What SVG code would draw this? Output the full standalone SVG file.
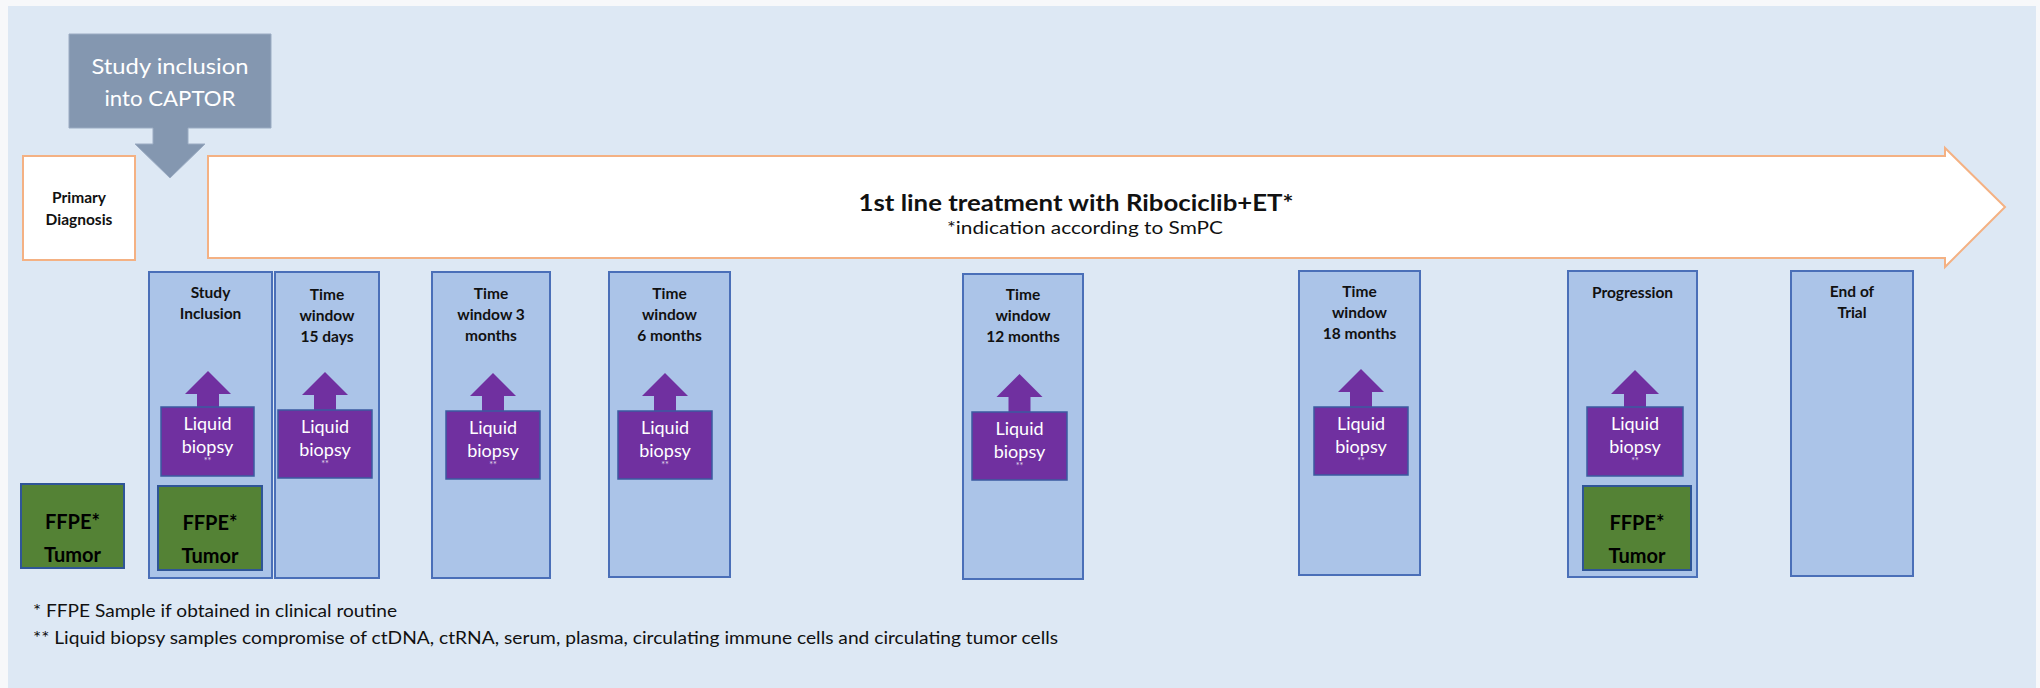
<svg xmlns="http://www.w3.org/2000/svg" width="2040" height="688" viewBox="0 0 2040 688">
<defs>
<style>
.col{fill:#abc4e8;stroke:#4a6fb8;stroke-width:2}
.lb{fill:#7030a0;stroke:#3b5aa0;stroke-width:1.5}
.la{fill:#7030a0}
.ffpe{fill:#548235;stroke:#2f5597;stroke-width:2}
.ct{font-family:Lato,"Open Sans",sans-serif;font-weight:bold;font-size:15.5px;fill:#111;text-anchor:middle}
.lt{font-family:Lato,"Open Sans",sans-serif;font-size:18px;fill:#fff;text-anchor:middle}
.st{font-family:Lato,"Open Sans",sans-serif;font-size:9px;fill:#fff;text-anchor:middle;opacity:0.8}
.ft{font-family:Lato,"Open Sans",sans-serif;font-weight:bold;font-size:20px;fill:#000;text-anchor:middle}
.fn{font-family:Lato,"Open Sans",sans-serif;font-size:16.5px;fill:#111}
</style>
</defs>
<rect x="0" y="0" width="2040" height="688" fill="#f7f8fa"/>
<rect id="panel" x="8" y="6" width="2028" height="682" fill="#dde8f4"/>

<g id="connectors">
<path id="treatment-arrow" d="M208,156 L1945,156 L1945,148 L2005,207 L1945,267 L1945,258 L208,258 Z" fill="#ffffff" stroke="#f4b183" stroke-width="2"/>
</g>

<g id="study-inclusion-callout">
<path d="M69,34 H271 V128 H188 V144 H205 L170,178 L135,144 H153 V128 H69 Z" fill="#8497b0" stroke="#9aabc2" stroke-width="1"/>
<text x="170" y="74" font-family="Lato,'Open Sans',sans-serif" font-size="22" fill="#fff" text-anchor="middle" textLength="157" lengthAdjust="spacingAndGlyphs">Study inclusion</text>
<text x="170" y="106" font-family="Lato,'Open Sans',sans-serif" font-size="22" fill="#fff" text-anchor="middle" textLength="131" lengthAdjust="spacingAndGlyphs">into CAPTOR</text>
</g>

<g id="treatment-label">
<text x="1076" y="211" font-family="Lato,'Open Sans',sans-serif" font-weight="bold" font-size="23" fill="#111" text-anchor="middle" textLength="435" lengthAdjust="spacingAndGlyphs">1st line treatment with Ribociclib+ET*</text>
<text x="1085" y="234" font-family="Lato,'Open Sans',sans-serif" font-size="18" fill="#111" text-anchor="middle" textLength="276" lengthAdjust="spacingAndGlyphs">*indication according to SmPC</text>
</g>

<g id="primary-diagnosis">
<rect x="23" y="156" width="112" height="104" fill="#ffffff" stroke="#f4b183" stroke-width="2"/>
<text class="ct" x="79" y="203">Primary</text>
<text class="ct" x="79" y="225">Diagnosis</text>
</g>

<g id="ffpe-primary">
<rect class="ffpe" x="21" y="484" width="103" height="84"/>
<text class="ft" x="72.5" y="529">FFPE*</text>
<text class="ft" x="72.5" y="562">Tumor</text>
</g>

<g id="col-study-inclusion">
<rect class="col" x="149" y="272" width="123" height="306"/>
<text class="ct" x="210.5" y="298">Study</text>
<text class="ct" x="210.5" y="319">Inclusion</text>
<path class="la" d="M197,407 V394 H185 L208,371 L231,394 H219 V407 Z"/>
<rect class="lb" x="161" y="407" width="93" height="69"/>
<text class="lt" x="207.5" y="430">Liquid</text>
<text class="lt" x="207.5" y="453">biopsy</text>
<text class="st" x="207.5" y="464">**</text>
<rect class="ffpe" x="158" y="486" width="104" height="84"/>
<text class="ft" x="210" y="530">FFPE*</text>
<text class="ft" x="210" y="563">Tumor</text>
</g>

<g id="col-15-days">
<rect class="col" x="275" y="272" width="104" height="306"/>
<text class="ct" x="327" y="300">Time</text>
<text class="ct" x="327" y="321">window</text>
<text class="ct" x="327" y="342">15 days</text>
<path class="la" d="M314,410 V395 H302 L325,372 L348,395 H336 V410 Z"/>
<rect class="lb" x="278" y="410" width="94" height="68"/>
<text class="lt" x="325" y="433">Liquid</text>
<text class="lt" x="325" y="456">biopsy</text>
<text class="st" x="325" y="467">**</text>
</g>

<g id="col-3-months">
<rect class="col" x="432" y="272" width="118" height="306"/>
<text class="ct" x="491" y="299">Time</text>
<text class="ct" x="491" y="320">window 3</text>
<text class="ct" x="491" y="341">months</text>
<path class="la" d="M482,411 V396 H470 L493,373 L516,396 H504 V411 Z"/>
<rect class="lb" x="446" y="411" width="94" height="68"/>
<text class="lt" x="493" y="434">Liquid</text>
<text class="lt" x="493" y="457">biopsy</text>
<text class="st" x="493" y="468">**</text>
</g>

<g id="col-6-months">
<rect class="col" x="609" y="272" width="121" height="305"/>
<text class="ct" x="669.5" y="299">Time</text>
<text class="ct" x="669.5" y="320">window</text>
<text class="ct" x="669.5" y="341">6 months</text>
<path class="la" d="M654,411 V396 H642 L665,373 L688,396 H676 V411 Z"/>
<rect class="lb" x="618" y="411" width="94" height="68"/>
<text class="lt" x="665" y="434">Liquid</text>
<text class="lt" x="665" y="457">biopsy</text>
<text class="st" x="665" y="468">**</text>
</g>

<g id="col-12-months">
<rect class="col" x="963" y="274" width="120" height="305"/>
<text class="ct" x="1023" y="300">Time</text>
<text class="ct" x="1023" y="321">window</text>
<text class="ct" x="1023" y="342">12 months</text>
<path class="la" d="M1008.5,412 V397 H996.5 L1019.5,374 L1042.5,397 H1030.5 V412 Z"/>
<rect class="lb" x="972" y="412" width="95" height="68"/>
<text class="lt" x="1019.5" y="435">Liquid</text>
<text class="lt" x="1019.5" y="458">biopsy</text>
<text class="st" x="1019.5" y="469">**</text>
</g>

<g id="col-18-months">
<rect class="col" x="1299" y="271" width="121" height="304"/>
<text class="ct" x="1359.5" y="297">Time</text>
<text class="ct" x="1359.5" y="318">window</text>
<text class="ct" x="1359.5" y="339">18 months</text>
<path class="la" d="M1350,407 V392 H1338 L1361,369 L1384,392 H1372 V407 Z"/>
<rect class="lb" x="1314" y="407" width="94" height="68"/>
<text class="lt" x="1361" y="430">Liquid</text>
<text class="lt" x="1361" y="453">biopsy</text>
<text class="st" x="1361" y="464">**</text>
</g>

<g id="col-progression">
<rect class="col" x="1568" y="271" width="129" height="306"/>
<text class="ct" x="1632.5" y="298">Progression</text>
<path class="la" d="M1624,407 V394 H1611 L1635,370 L1659,394 H1646 V407 Z"/>
<rect class="lb" x="1587" y="407" width="96" height="69"/>
<text class="lt" x="1635" y="430">Liquid</text>
<text class="lt" x="1635" y="453">biopsy</text>
<text class="st" x="1635" y="464">**</text>
<rect class="ffpe" x="1583" y="486" width="108" height="84"/>
<text class="ft" x="1637" y="530">FFPE*</text>
<text class="ft" x="1637" y="563">Tumor</text>
</g>

<g id="col-end-of-trial">
<rect class="col" x="1791" y="271" width="122" height="305"/>
<text class="ct" x="1852" y="297">End of</text>
<text class="ct" x="1852" y="318">Trial</text>
</g>

<g id="footnotes">
<text class="fn" x="33" y="617" textLength="364" lengthAdjust="spacingAndGlyphs">* FFPE Sample if obtained in clinical routine</text>
<text class="fn" x="33" y="644" textLength="1025" lengthAdjust="spacingAndGlyphs">** Liquid biopsy samples compromise of ctDNA, ctRNA, serum, plasma, circulating immune cells and circulating tumor cells</text>
</g>
</svg>
